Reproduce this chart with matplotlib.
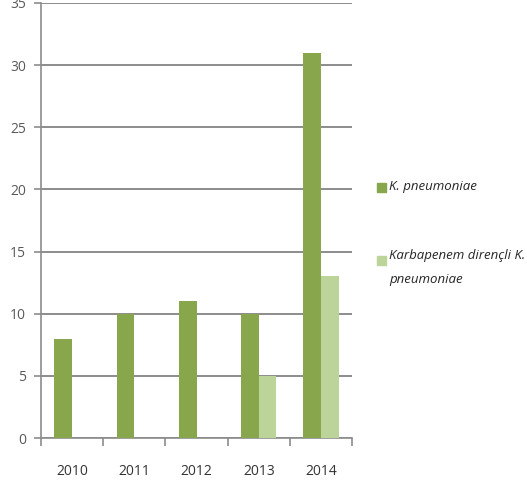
import numpy as np
import matplotlib
matplotlib.use("Agg")
import matplotlib.pyplot as plt
from matplotlib.patches import Rectangle

years = ["2010", "2011", "2012", "2013", "2014"]
k_pneumoniae = [8, 10, 11, 10, 31]
karbapenem_direncli = [0, 0, 0, 5, 13]
series_labels = ["K. pneumoniae", "Karbapenem dirençli K.\npneumoniae"]

dark_green = "#88a64c"
light_green = "#bcd49a"
grey = "#8c8c8c"
text_grey = "#595959"

plt.rcParams["font.family"] = ["Open Sans", "DejaVu Sans"]

W, H = 527, 484
fig = plt.figure(figsize=(W / 100, H / 100), dpi=100)
ax = fig.add_axes([0.078, 0.095, 0.59, 0.899])

x = np.arange(len(years))
w = 0.285
ax.bar(x - w / 2, k_pneumoniae, w, color=dark_green, zorder=3)
ax.bar(x + w / 2, karbapenem_direncli, w, color=light_green, zorder=3)

ax.set_xlim(-0.5, len(years) - 0.5)
ax.set_ylim(0, 35)
ax.set_yticks(range(0, 36, 5))
ax.yaxis.grid(True, color=grey, linewidth=1.4, zorder=0)
ax.set_axisbelow(True)

# category boundaries get the ticks, labels sit in the middle
ax.set_xticks(np.arange(-0.5, len(years)))
ax.set_xticklabels([])
ax.set_xticks(x, minor=True)
ax.set_xticklabels(years, minor=True)
ax.tick_params(axis="x", which="major", length=6, color=grey, width=1.2)
ax.tick_params(axis="x", which="minor", length=0, pad=19, labelsize=10, labelcolor="#333333")
ax.tick_params(axis="y", length=5, color=grey, width=1.2, labelsize=10, labelcolor=text_grey, pad=6)

for s in ["top", "right"]:
    ax.spines[s].set_visible(False)
for s in ["left", "bottom"]:
    ax.spines[s].set_color(grey)
    ax.spines[s].set_linewidth(1.2)

# legend drawn by hand: square sits at the foot of the first label line
legend_rows = [(187, 192, dark_green), (256, 265, light_green)]
for (yc, sq_bottom, col), lab in zip(legend_rows, series_labels):
    fig.add_artist(Rectangle((377 / W, 1 - sq_bottom / H), 9 / W, 9 / H,
                             transform=fig.transFigure, color=col))
    fig.text(389 / W, 1 - (yc - 7) / H, lab, va="top", ha="left",
             style="italic", fontsize=9.5, color="#262626", linespacing=2.1)

fig.savefig("out.png", dpi=100)
